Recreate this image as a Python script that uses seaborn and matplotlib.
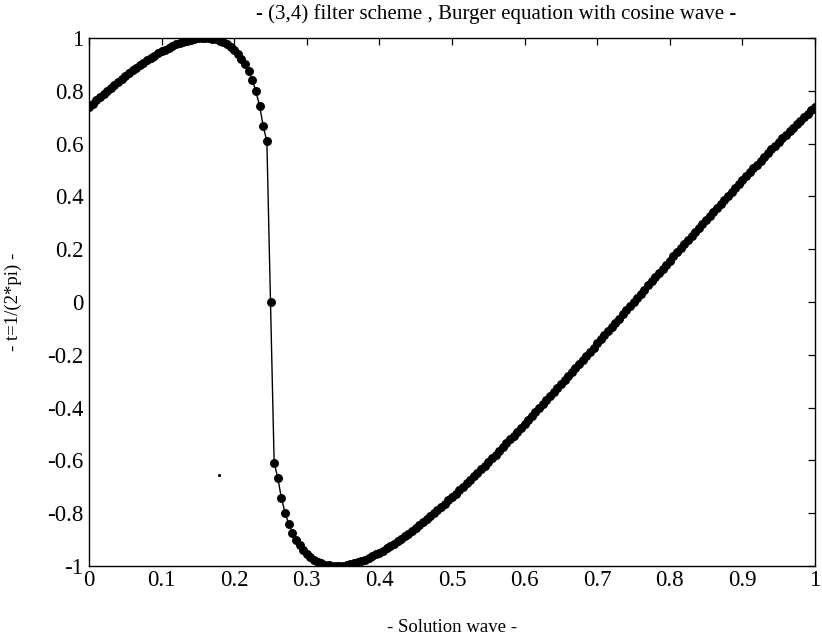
import matplotlib
matplotlib.use("Agg")
import matplotlib.pyplot as plt
import pandas as pd
import seaborn as sns

# ---------------- data ----------------
x_grid = [
    0.000, 0.005, 0.010, 0.015, 0.020, 0.025, 0.030, 0.035, 0.040, 0.045,
    0.050, 0.055, 0.060, 0.065, 0.070, 0.075, 0.080, 0.085, 0.090, 0.095,
    0.100, 0.105, 0.110, 0.115, 0.120, 0.125, 0.130, 0.135, 0.140, 0.145,
    0.150, 0.155, 0.160, 0.165, 0.170, 0.175, 0.180, 0.185, 0.190, 0.195,
    0.200, 0.205, 0.210, 0.215, 0.220, 0.225, 0.230, 0.235, 0.240, 0.245,
    0.250, 0.255, 0.260, 0.265, 0.270, 0.275, 0.280, 0.285, 0.290, 0.295,
    0.300, 0.305, 0.310, 0.315, 0.320, 0.325, 0.330, 0.335, 0.340, 0.345,
    0.350, 0.355, 0.360, 0.365, 0.370, 0.375, 0.380, 0.385, 0.390, 0.395,
    0.400, 0.405, 0.410, 0.415, 0.420, 0.425, 0.430, 0.435, 0.440, 0.445,
    0.450, 0.455, 0.460, 0.465, 0.470, 0.475, 0.480, 0.485, 0.490, 0.495,
    0.500, 0.505, 0.510, 0.515, 0.520, 0.525, 0.530, 0.535, 0.540, 0.545,
    0.550, 0.555, 0.560, 0.565, 0.570, 0.575, 0.580, 0.585, 0.590, 0.595,
    0.600, 0.605, 0.610, 0.615, 0.620, 0.625, 0.630, 0.635, 0.640, 0.645,
    0.650, 0.655, 0.660, 0.665, 0.670, 0.675, 0.680, 0.685, 0.690, 0.695,
    0.700, 0.705, 0.710, 0.715, 0.720, 0.725, 0.730, 0.735, 0.740, 0.745,
    0.750, 0.755, 0.760, 0.765, 0.770, 0.775, 0.780, 0.785, 0.790, 0.795,
    0.800, 0.805, 0.810, 0.815, 0.820, 0.825, 0.830, 0.835, 0.840, 0.845,
    0.850, 0.855, 0.860, 0.865, 0.870, 0.875, 0.880, 0.885, 0.890, 0.895,
    0.900, 0.905, 0.910, 0.915, 0.920, 0.925, 0.930, 0.935, 0.940, 0.945,
    0.950, 0.955, 0.960, 0.965, 0.970, 0.975, 0.980, 0.985, 0.990, 0.995,
    1.000,
]

solution = [
    0.7391, 0.7517, 0.7641, 0.7763, 0.7883, 0.8002, 0.8119, 0.8234, 0.8346, 0.8457,
    0.8565, 0.8671, 0.8774, 0.8874, 0.8972, 0.9067, 0.9158, 0.9247, 0.9332, 0.9413,
    0.9490, 0.9563, 0.9632, 0.9696, 0.9756, 0.9809, 0.9858, 0.9900, 0.9935, 0.9964,
    0.9984, 0.9997, 1.0000, 0.9993, 0.9975, 0.9945, 0.9901, 0.9842, 0.9765, 0.9668,
    0.9548, 0.9401, 0.9221, 0.9001, 0.8732, 0.8398, 0.7975, 0.7424, 0.6660, 0.6080,
    0.0000,
    -0.6080, -0.6660, -0.7424, -0.7975, -0.8398, -0.8732, -0.9001, -0.9221, -0.9401, -0.9548,
    -0.9668, -0.9765, -0.9842, -0.9901, -0.9945, -0.9975, -0.9993, -1.0000, -0.9997, -0.9984,
    -0.9964, -0.9935, -0.9900, -0.9858, -0.9809, -0.9756, -0.9696, -0.9632, -0.9563, -0.9490,
    -0.9413, -0.9332, -0.9247, -0.9158, -0.9067, -0.8972, -0.8874, -0.8774, -0.8671, -0.8565,
    -0.8457, -0.8346, -0.8234, -0.8119, -0.8002, -0.7883, -0.7763, -0.7641, -0.7517, -0.7391,
    -0.7264, -0.7135, -0.7005, -0.6873, -0.6740, -0.6606, -0.6471, -0.6335, -0.6197, -0.6058,
    -0.5919, -0.5778, -0.5636, -0.5494, -0.5350, -0.5206, -0.5061, -0.4915, -0.4769, -0.4621,
    -0.4473, -0.4325, -0.4175, -0.4025, -0.3875, -0.3724, -0.3573, -0.3421, -0.3268, -0.3115,
    -0.2962, -0.2808, -0.2654, -0.2500, -0.2345, -0.2190, -0.2035, -0.1879, -0.1724, -0.1568,
    -0.1411, -0.1255, -0.1099, -0.0942, -0.0785, -0.0628, -0.0471, -0.0314, -0.0157, 0.0000,
    0.0157, 0.0314, 0.0471, 0.0628, 0.0785, 0.0942, 0.1099, 0.1255, 0.1411, 0.1568,
    0.1724, 0.1879, 0.2035, 0.2190, 0.2345, 0.2500, 0.2654, 0.2808, 0.2962, 0.3115,
    0.3268, 0.3421, 0.3573, 0.3724, 0.3875, 0.4025, 0.4175, 0.4325, 0.4473, 0.4621,
    0.4769, 0.4915, 0.5061, 0.5206, 0.5350, 0.5494, 0.5636, 0.5778, 0.5919, 0.6058,
    0.6197, 0.6335, 0.6471, 0.6606, 0.6740, 0.6873, 0.7005, 0.7135, 0.7264, 0.7391,
]

stray_x = [0.179]
stray_y = [-0.654]

x_ticks = [0, 0.1, 0.2, 0.3, 0.4, 0.5, 0.6, 0.7, 0.8, 0.9, 1]
x_tick_labels = ["0", "0.1", "0.2", "0.3", "0.4", "0.5", "0.6", "0.7", "0.8", "0.9", "1"]
y_ticks = [-1, -0.8, -0.6, -0.4, -0.2, 0, 0.2, 0.4, 0.6, 0.8, 1]
y_tick_labels = ["-1", "-0.8", "-0.6", "-0.4", "-0.2", "0", "0.2", "0.4", "0.6", "0.8", "1"]

title_text = "- (3,4) filter scheme , Burger equation with cosine wave -"
x_label_text = "- Solution wave -"
y_label_text = "- t=1/(2*pi) -"

# ---------------- style ----------------
sns.set_theme(style="white")
plt.rcParams["font.family"] = ["Liberation Serif", "DejaVu Serif"]
plt.rcParams["axes.unicode_minus"] = False

fig = plt.figure(figsize=(8.22, 6.43), dpi=100)
ax = fig.add_axes([89 / 822, 1 - 566 / 643, (815 - 89) / 822, (566 - 38) / 643])

df = pd.DataFrame({"x": x_grid, "u": solution})
sns.lineplot(
    data=df, x="x", y="u", ax=ax, color="black", linewidth=1.0,
    marker="o", markersize=5.8, markeredgecolor="black", markerfacecolor="black",
    markeredgewidth=0.6, estimator=None, sort=False,
)
sns.scatterplot(x=stray_x, y=stray_y, ax=ax, color="black", s=5,
                edgecolor="black", linewidth=0)

ax.set_xlim(0, 1)
ax.set_ylim(-1, 1)
ax.set_xticks(x_ticks)
ax.set_xticklabels(x_tick_labels)
ax.set_yticks(y_ticks)
ax.set_yticklabels(y_tick_labels)

ax.tick_params(axis="both", direction="in", top=True, right=True,
               length=5, width=0.9, color="black", labelsize=16.5,
               labelcolor="black")
ax.tick_params(axis="x", pad=3)
ax.tick_params(axis="y", pad=4)
for sp in ax.spines.values():
    sp.set_visible(True)
    sp.set_color("black")
    sp.set_linewidth(1.0)
ax.grid(False)

fig.text(496 / 822, 1 - 14 / 643, title_text, fontsize=15, color="black",
         ha="center", va="center")
ax.set_xlabel(x_label_text, fontsize=13.5, color="black", labelpad=20)
ax.set_ylabel(y_label_text, fontsize=13.5, color="black", labelpad=18)

fig.savefig("out.png", dpi=100, facecolor="white")
